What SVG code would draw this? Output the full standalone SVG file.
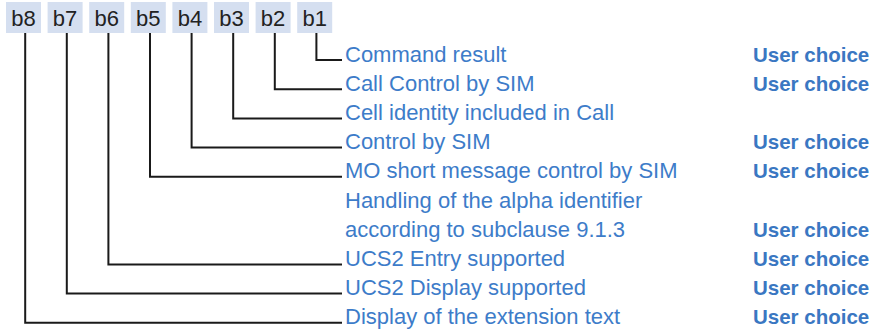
<svg xmlns="http://www.w3.org/2000/svg" width="871" height="331" viewBox="0 0 871 331">
<style>
.box{fill:#d5dff0}
.bl{font-family:"Liberation Sans",Arial,sans-serif;font-size:22px;fill:#222;text-anchor:middle}
.t{font-family:"Liberation Sans",Arial,sans-serif;font-size:22px;fill:#3d7cc9}
.u{font-family:"Liberation Sans",Arial,sans-serif;font-size:20.5px;font-weight:bold;fill:#3a77c2}
.c{fill:none;stroke:#1a1a1a;stroke-width:2}
</style>
<rect width="871" height="331" fill="#fff"/>
<g id="b8"><rect class="box" x="6" y="2" width="35" height="31"/><text class="bl" x="23.5" y="26">b8</text></g>
<g id="b7"><rect class="box" x="47.6" y="2" width="35" height="31"/><text class="bl" x="65.1" y="26">b7</text></g>
<g id="b6"><rect class="box" x="89.2" y="2" width="35" height="31"/><text class="bl" x="106.7" y="26">b6</text></g>
<g id="b5"><rect class="box" x="130.8" y="2" width="35" height="31"/><text class="bl" x="148.3" y="26">b5</text></g>
<g id="b4"><rect class="box" x="172.4" y="2" width="35" height="31"/><text class="bl" x="189.9" y="26">b4</text></g>
<g id="b3"><rect class="box" x="214" y="2" width="35" height="31"/><text class="bl" x="231.5" y="26">b3</text></g>
<g id="b2"><rect class="box" x="255.6" y="2" width="35" height="31"/><text class="bl" x="273.1" y="26">b2</text></g>
<g id="b1"><rect class="box" x="297.2" y="2" width="35" height="31"/><text class="bl" x="314.7" y="26">b1</text></g>
<g id="connectors">
<path class="c" d="M316.4 33V60H342"/>
<path class="c" d="M274.8 33V89.2H342"/>
<path class="c" d="M233.2 33V118.4H342"/>
<path class="c" d="M191.6 33V147.6H342"/>
<path class="c" d="M150 33V176.8H342"/>
<path class="c" d="M108.4 33V264.4H342"/>
<path class="c" d="M66.8 33V293.6H342"/>
<path class="c" d="M25.2 33V322.8H342"/>
</g>
<g id="labels">
<text class="t" x="345" y="61.5">Command result</text>
<text class="t" x="345" y="90.7">Call Control by SIM</text>
<text class="t" x="345" y="119.9">Cell identity included in Call</text>
<text class="t" x="345" y="149.1">Control by SIM</text>
<text class="t" x="345" y="178.3">MO short message control by SIM</text>
<text class="t" x="345" y="207.5">Handling of the alpha identifier</text>
<text class="t" x="345" y="236.7">according to subclause 9.1.3</text>
<text class="t" x="345" y="265.9">UCS2 Entry supported</text>
<text class="t" x="345" y="295.1">UCS2 Display supported</text>
<text class="t" x="345" y="324.3">Display of the extension text</text>
</g>
<g id="choices">
<text class="u" x="753" y="61.5">User choice</text>
<text class="u" x="753" y="90.7">User choice</text>
<text class="u" x="753" y="149.1">User choice</text>
<text class="u" x="753" y="178.3">User choice</text>
<text class="u" x="753" y="236.7">User choice</text>
<text class="u" x="753" y="265.9">User choice</text>
<text class="u" x="753" y="295.1">User choice</text>
<text class="u" x="753" y="324.3">User choice</text>
</g>
</svg>
